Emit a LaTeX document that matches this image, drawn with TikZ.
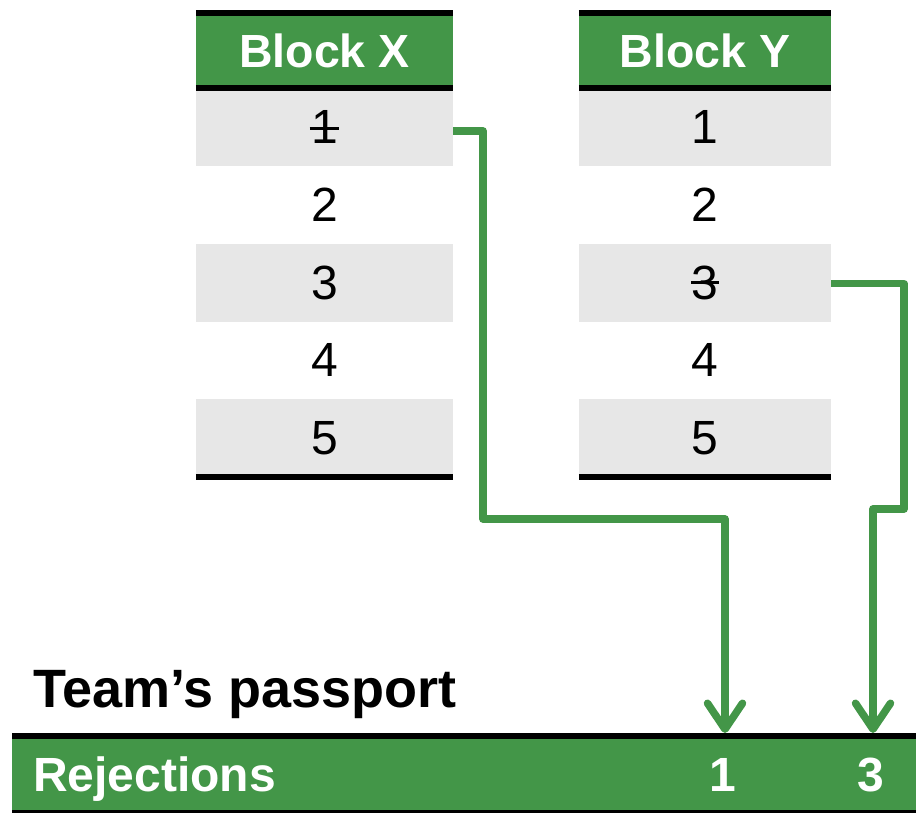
\documentclass[tikz,border=0pt]{standalone}
\usepackage{fontspec}
\setmainfont{Liberation Sans}
\usepackage{tikz}
\usetikzlibrary{arrows.meta}
\definecolor{pgreen}{RGB}{67,150,72}
\definecolor{rowgray}{RGB}{231,231,231}
\tikzset{
  cell/.style={minimum width=257pt,minimum height=77.8pt,inner sep=0pt,
    font=\fontsize{48}{50}\selectfont},
  head/.style={fill=pgreen,text=white,minimum width=257pt,minimum height=75pt,
    inner sep=0pt,font=\fontsize{46.5}{48}\selectfont\bfseries},
  rule/.style={line width=5.5pt},
  strike/.style={line width=2.5pt},
  link/.style={draw=pgreen,line width=7.5pt,line join=round,
    -{Straight Barb[round,length=26pt,width=35pt]}}
}

\begin{document}
\begin{tikzpicture}[x=1pt,y=-1pt]
\useasboundingbox (0,0) rectangle (916,813);
% headers
\node[head] (hx) at (324.5,50.5) {Block X};
\node[head,minimum width=252pt] (hy) at (705,50.5) {Block Y};
% rows
\foreach \i/\f in {1/rowgray,2/white,3/rowgray,4/white,5/rowgray} {
  \node[cell,fill=\f] (x\i) at (324.5,{127+77.8*(\i-1)}) {\i};
  \node[cell,fill=\f,minimum width=252pt] (y\i) at (705,{127+77.8*(\i-1)}) {\i};
}
\draw[rule] (hx.north west) -- (hx.north east);
\draw[rule] (hx.south west) -- (hx.south east);
\draw[rule,line width=6pt] (x5.south west) -- (x5.south east);
\draw[rule] (hy.north west) -- (hy.north east);
\draw[rule] (hy.south west) -- (hy.south east);
\draw[rule,line width=6pt] (y5.south west) -- (y5.south east);
% crossed out
\draw[strike] ([xshift=-15pt,yshift=-1.5pt]x1.center) -- ([xshift=14pt,yshift=-1.5pt]x1.center);
\draw[strike] ([xshift=-14pt]y3.center) -- ([xshift=14pt]y3.center);
% passport
\node[anchor=base west,inner sep=0pt,font=\fontsize{54}{56}\selectfont\bfseries]
  (team) at (33,707) {Team’s passport};
\node[fill=pgreen,minimum width=904pt,minimum height=75pt,inner sep=0pt,
  anchor=north west] (bar) at (12,736) {};
\draw[rule,line width=6pt] (bar.north west) -- (bar.north east);
\draw[line width=2.5pt] (bar.south west) -- (bar.south east);
\node[anchor=base west,inner sep=0pt,text=white,font=\fontsize{48}{50}\selectfont\bfseries]
  (rej) at (33,791) {Rejections};
\node[anchor=base,inner sep=0pt,text=white,font=\fontsize{48}{50}\selectfont\bfseries]
  (r1) at (723,791) {1};
\node[anchor=base,inner sep=0pt,text=white,font=\fontsize{48}{50}\selectfont\bfseries]
  (r3) at (871,791) {3};
% connectors
\coordinate (xturn) at (483,519);
\coordinate (yturn) at (904,509);
\coordinate (r1top) at (725,733);
\coordinate (r3top) at (873,733);
\draw[link] ([yshift=-4pt]x1.east) -| (xturn) -| (r1top);
\draw[link] ([yshift=-1pt]y3.east) -| (yturn) -| (r3top);
\end{tikzpicture}
\end{document}
